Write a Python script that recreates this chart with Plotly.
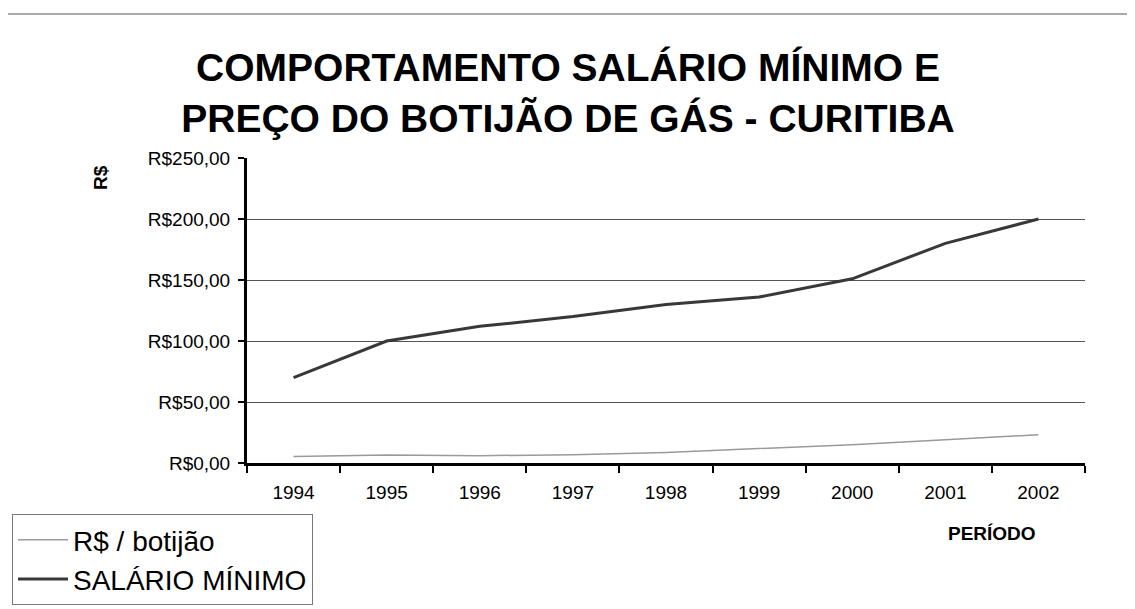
import plotly.graph_objects as go

years = ["1994", "1995", "1996", "1997", "1998", "1999", "2000", "2001", "2002"]
botijao = [5.4, 6.6, 6.0, 6.8, 8.7, 12.0, 15.0, 19.0, 23.2]
salario = [70, 100, 112, 120, 130, 136, 151, 180, 200]
y_ticks = [0, 50, 100, 150, 200, 250]
y_tick_labels = ["R$0,00", "R$50,00", "R$100,00", "R$150,00", "R$200,00", "R$250,00"]

FONT = "Liberation Sans, Arial, sans-serif"

# figure is placed inside the page body (8px default margin)
W, H = 1127, 601
L, R, T, B = 239, 50, 150, 146
PW, PH = W - L - R, H - T - B


def px(fx):
    return (fx - L) / PW


def py(fy):
    return (H - B - fy) / PH


fig = go.Figure()
fig.add_trace(go.Scatter(
    x=years, y=botijao, mode="lines", name="R$ / botijão",
    line=dict(color="#9a9a9a", width=1.5),
))
fig.add_trace(go.Scatter(
    x=years, y=salario, mode="lines", name="SALÁRIO MÍNIMO",
    line=dict(color="#383838", width=3),
))

fig.update_layout(
    width=W, height=H,
    paper_bgcolor="white", plot_bgcolor="white",
    margin=dict(l=L, r=R, t=T, b=B, autoexpand=False),
    font=dict(family=FONT, color="black"),
    title=dict(
        text="COMPORTAMENTO SALÁRIO MÍNIMO E<br>PREÇO DO BOTIJÃO DE GÁS - CURITIBA",
        font=dict(family=FONT, size=39, color="black", weight="bold"),
        x=560 / W, xanchor="center", xref="container",
        y=1 - 73 / H, yanchor="middle", yref="container",
    ),
    xaxis=dict(
        type="category", showgrid=False,
        showline=True, linecolor="black", linewidth=3,
        ticks="outside", tickson="boundaries", ticklen=7, tickwidth=2, tickcolor="black",
        tickfont=dict(size=19, family=FONT), ticklabelstandoff=10,
        range=[-0.5, 8.5], automargin=False,
    ),
    yaxis=dict(
        range=[0, 250], tickvals=y_ticks, ticktext=y_tick_labels,
        showline=True, linecolor="black", linewidth=3,
        ticks="outside", ticklen=6, tickwidth=2, tickcolor="black",
        tickfont=dict(size=19, family=FONT), ticklabelstandoff=4,
        showgrid=True, gridcolor="#555555", gridwidth=1,
        zeroline=False, automargin=False,
    ),
    legend=dict(
        x=4 / W, y=1 - 506 / H, xanchor="left", yanchor="top",
        xref="container", yref="container",
        font=dict(size=28, family=FONT, color="black"),
        bordercolor="#777", borderwidth=1, bgcolor="white",
        itemwidth=50, tracegroupgap=0,
    ),
    showlegend=True,
    annotations=[
        dict(text="<b>R$</b>", textangle=-90, x=px(92), y=py(170),
             xanchor="center", yanchor="middle",
             xref="paper", yref="paper", showarrow=False,
             font=dict(size=19, family=FONT)),
        dict(text="<b>PERÍODO</b>", x=px(984), y=py(525),
             xanchor="center", yanchor="middle",
             xref="paper", yref="paper", showarrow=False,
             font=dict(size=19, family=FONT)),
    ],
    shapes=[
        dict(type="line", xref="paper", yref="paper",
             x0=px(-8), x1=px(W), y0=py(6), y1=py(6),
             line=dict(color="#555", width=1)),
    ],
)

fig.write_html("out.html")
